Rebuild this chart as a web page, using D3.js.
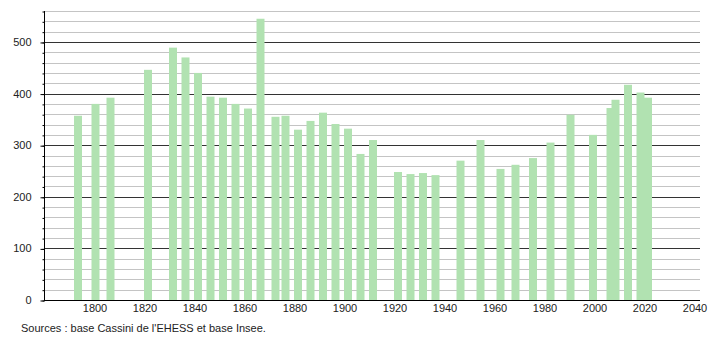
<!DOCTYPE html>
<html>
<head>
<meta charset="utf-8">
<script src="https://cdn.jsdelivr.net/npm/d3@7"></script>
<style>
  body { margin: 0; background: #fff; }
  svg text { font-family: "Liberation Sans", Arial, sans-serif; }
</style>
</head>
<body>
<div id="chart"></div>
<script>
// années de recensement
var years = [1793, 1800, 1806, 1821, 1831, 1836, 1841, 1846, 1851, 1856, 1861, 1866,
  1872, 1876, 1881, 1886, 1891, 1896, 1901, 1906, 1911, 1921, 1926, 1931, 1936,
  1946, 1954, 1962, 1968, 1975, 1982, 1990, 1999, 2006, 2008, 2013, 2018, 2021];
// population
var population = [357, 380, 392, 446, 489, 470, 440, 394, 392, 380, 371, 545,
  355, 357, 330, 347, 363, 341, 332, 283, 310, 248, 244, 246, 242,
  270, 310, 254, 262, 275, 305, 359, 320, 372, 388, 417, 402, 392];
var yMajor = [0, 100, 200, 300, 400, 500];
var xLabels = [1800, 1820, 1840, 1860, 1880, 1900, 1920, 1940, 1960, 1980, 2000, 2020, 2040];
var sourceText = "Sources : base Cassini de l'EHESS et base Insee.";

(function() {
  var W = 710, H = 340;
  // attention : "top" est réservé par window
  var mLeft = 44, mRight = 700, mTop = 11, mBottom = 300;

  var svg = d3.select("#chart").append("svg")
    .attr("width", W).attr("height", H);

  var x = d3.scaleLinear().domain([1780, 2042]).range([mLeft + 0.5, mRight - 0.5]);
  var y = d3.scaleLinear().domain([0, 560]).range([mBottom, mTop]);

  // grille : mineure tous les 20, majeure tous les 100
  var minor = d3.range(20, 561, 20).filter(function(v) { return v % 100 !== 0; });
  svg.append("g").selectAll("line").data(minor).enter().append("line")
    .attr("x1", mLeft).attr("x2", mRight)
    .attr("y1", function(d) { return Math.round(y(d)) + 0.5; })
    .attr("y2", function(d) { return Math.round(y(d)) + 0.5; })
    .attr("stroke", "#c4c4c4");
  svg.append("g").selectAll("line").data(yMajor.slice(1)).enter().append("line")
    .attr("x1", mLeft).attr("x2", mRight)
    .attr("y1", function(d) { return Math.round(y(d)) + 0.5; })
    .attr("y2", function(d) { return Math.round(y(d)) + 0.5; })
    .attr("stroke", "#333");

  // barres
  svg.append("g").selectAll("rect").data(years).enter().append("rect")
    .attr("x", function(d) { return x(d) - 3; })
    .attr("width", 8)
    .attr("y", function(d, i) { return y(population[i]); })
    .attr("height", function(d, i) { return mBottom - y(population[i]); })
    .attr("fill", "#b1e2b1");

  // axe y : petits traits tous les 20
  var yMinorAxis = d3.axisLeft(y).tickValues(d3.range(0, 561, 20)).tickSize(2).tickFormat("");
  var gm = svg.append("g").attr("transform", "translate(" + (mLeft + 0.5) + ",0)").call(yMinorAxis);
  gm.select(".domain").remove();
  gm.selectAll("line").attr("stroke", "#000").attr("transform", "translate(0,0.5)");

  var yAxis = d3.axisLeft(y).tickValues(yMajor).tickSize(4).tickPadding(9).tickSizeOuter(0);
  var gy = svg.append("g").attr("transform", "translate(" + (mLeft + 0.5) + ",0)").call(yAxis);
  gy.select(".domain").attr("stroke", "#000").attr("d", "M0," + mTop + "V" + mBottom);
  gy.selectAll(".tick line").attr("stroke", "#000").attr("transform", "translate(0,0.5)");
  gy.selectAll("text").attr("font-size", 11).attr("fill", "#222")
    .attr("font-family", "Liberation Sans, Arial, sans-serif");

  // axe x
  var xAxis = d3.axisBottom(x).tickValues(xLabels).tickSize(0).tickPadding(4)
    .tickFormat(d3.format("d"));
  var gx = svg.append("g").attr("transform", "translate(0," + (mBottom + 0.5) + ")").call(xAxis);
  gx.select(".domain").attr("stroke", "#000").attr("d", "M" + mLeft + ",0H" + mRight);
  gx.selectAll("text").attr("font-size", 11).attr("fill", "#222")
    .attr("font-family", "Liberation Sans, Arial, sans-serif");

  // source
  svg.append("text").attr("x", 21).attr("y", 332)
    .attr("font-size", 11).attr("fill", "#222")
    .text(sourceText);
})();
</script>
</body>
</html>
